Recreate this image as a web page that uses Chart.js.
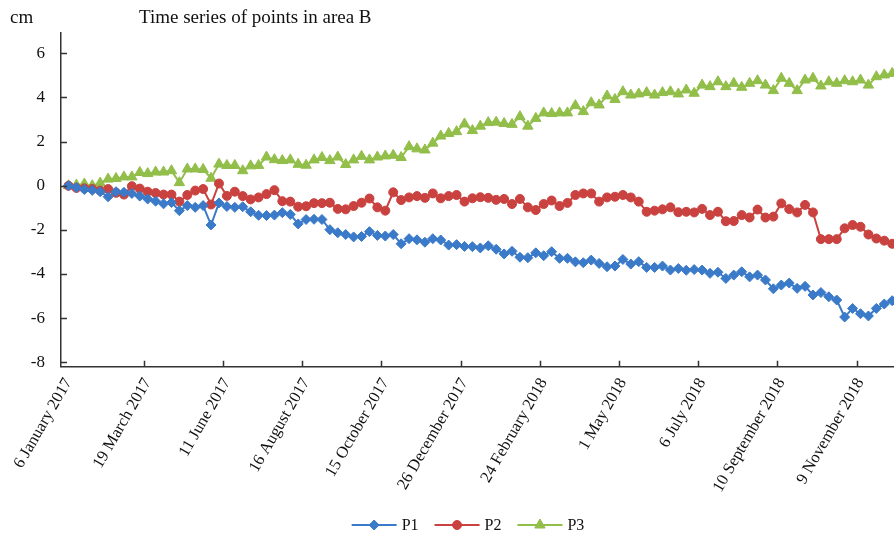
<!DOCTYPE html>
<html>
<head>
<meta charset="utf-8">
<title>Time series of points in area B</title>
<script src="https://cdn.jsdelivr.net/npm/chart.js@4.4.1/dist/chart.umd.min.js"></script>
<style>
  html, body { margin: 0; padding: 0; background: #fff; overflow: hidden; }
  canvas { display: block; }
</style>
</head>
<body>
<canvas id="chart" width="894" height="537"></canvas>
<script>
// Acquisition dates (one per measurement)
const dates = [
  '2017-01-06','2017-01-18','2017-01-30','2017-02-05','2017-02-11','2017-02-17','2017-02-23','2017-03-01','2017-03-07','2017-03-13',
  '2017-03-19','2017-03-25','2017-03-31','2017-04-06','2017-04-12','2017-04-24','2017-05-06','2017-05-18','2017-05-30','2017-06-05',
  '2017-06-11','2017-06-17','2017-06-23','2017-06-29','2017-07-05','2017-07-11','2017-07-17','2017-07-23','2017-07-29','2017-08-04',
  '2017-08-16','2017-08-22','2017-08-28','2017-09-03','2017-09-09','2017-09-15','2017-09-21','2017-09-27','2017-10-03','2017-10-09',
  '2017-10-15','2017-10-21','2017-10-27','2017-11-02','2017-11-08','2017-11-14','2017-11-20','2017-12-02','2017-12-08','2017-12-14',
  '2017-12-26','2018-01-01','2018-01-07','2018-01-13','2018-01-19','2018-01-25','2018-01-31','2018-02-06','2018-02-12','2018-02-18',
  '2018-02-24','2018-03-02','2018-03-08','2018-03-14','2018-03-20','2018-03-26','2018-04-01','2018-04-07','2018-04-13','2018-04-19',
  '2018-05-01','2018-05-07','2018-05-13','2018-05-19','2018-05-25','2018-05-31','2018-06-06','2018-06-12','2018-06-18','2018-06-24',
  '2018-07-06','2018-07-12','2018-07-18','2018-07-24','2018-07-30','2018-08-05','2018-08-11','2018-08-17','2018-08-23','2018-08-29',
  '2018-09-10','2018-09-16','2018-09-22','2018-09-28','2018-10-04','2018-10-10','2018-10-16','2018-10-22','2018-10-28','2018-11-03',
  '2018-11-09','2018-11-15','2018-11-21','2018-11-27','2018-12-03'
];

// Dates that get a label on the time axis
const tickIndex = [0, 10, 20, 30, 40, 50, 60, 70, 80, 90, 100];

// Displacement axis ticks (cm)
const yTicks = [-8, -6, -4, -2, 0, 2, 4, 6];

const seriesNames = ['P1', 'P2', 'P3'];

// Cumulative displacement, cm
const p1 = [
  0, -0.08, -0.17, -0.21, -0.27, -0.5, -0.27, -0.3, -0.35, -0.47,
  -0.6, -0.7, -0.82, -0.76, -1.13, -0.9, -0.98, -0.9, -1.78, -0.78,
  -0.94, -0.98, -0.95, -1.18, -1.34,
  -1.35, -1.33, -1.22, -1.3, -1.73, -1.53, -1.52, -1.53, -1.99, -2.13,
  -2.21, -2.32, -2.3, -2.08, -2.25, -2.28, -2.21, -2.63, -2.4, -2.45,
  -2.56, -2.4, -2.46, -2.69, -2.67, -2.75, -2.76, -2.82,
  -2.72, -2.88, -3.09, -2.97, -3.24, -3.26, -3.04, -3.17, -2.99, -3.29,
  -3.29, -3.45, -3.49, -3.37, -3.52, -3.67, -3.64, -3.34, -3.55, -3.44,
  -3.7, -3.7, -3.64, -3.82, -3.75, -3.83,
  -3.8, -3.82, -3.97, -3.92, -4.2, -4.05, -3.9, -4.13, -4.05, -4.27,
  -4.67, -4.5, -4.41, -4.65, -4.56, -4.95, -4.84, -5.03, -5.18, -5.95,
  -5.56, -5.8, -5.9, -5.56, -5.36, -5.21
];

const p2 = [
  0, -0.1, -0.12, -0.15, -0.22, -0.15, -0.32, -0.4, -0.02, -0.13,
  -0.27, -0.33, -0.4, -0.4, -0.72, -0.42, -0.22, -0.15, -0.85, 0.1,
  -0.46, -0.27, -0.47, -0.62, -0.53,
  -0.38, -0.2, -0.7, -0.72, -0.95, -0.93, -0.79, -0.79, -0.77, -1.05,
  -1.07, -0.92, -0.77, -0.58, -0.98, -1.13, -0.3, -0.65, -0.53, -0.47,
  -0.55, -0.35, -0.57, -0.47, -0.42, -0.72, -0.57, -0.52,
  -0.55, -0.64, -0.6, -0.83, -0.6, -0.98, -1.1, -0.83, -0.67, -0.92,
  -0.78, -0.42, -0.35, -0.35, -0.72, -0.53, -0.5, -0.42, -0.53, -0.72,
  -1.18, -1.13, -1.07, -0.98, -1.2, -1.18,
  -1.21, -1.05, -1.33, -1.18, -1.61, -1.6, -1.33, -1.44, -1.08, -1.44,
  -1.4, -0.8, -1.06, -1.21, -0.87, -1.21, -2.42, -2.42, -2.42, -1.93,
  -1.78, -1.86, -2.21, -2.39, -2.49, -2.63
];

const p3 = [
  0, 0.03, 0.08, 0, 0.12, 0.3, 0.33, 0.4, 0.4, 0.6,
  0.55, 0.62, 0.62, 0.68, 0.14, 0.76, 0.76, 0.74, 0.34, 0.98,
  0.92, 0.92, 0.68, 0.9, 0.92,
  1.3, 1.18, 1.14, 1.17, 0.97, 0.93, 1.17, 1.28, 1.14, 1.3,
  0.96, 1.17, 1.33, 1.17, 1.3, 1.35, 1.38, 1.28, 1.77, 1.67,
  1.62, 1.93, 2.25, 2.37, 2.45,
  2.8, 2.5, 2.7, 2.86, 2.88, 2.82, 2.78, 3.13, 2.7, 3.05,
  3.3, 3.27, 3.3, 3.3, 3.63, 3.36, 3.76, 3.66, 4.07, 3.91,
  4.26, 4.11, 4.16, 4.22, 4.11, 4.22, 4.26, 4.16, 4.34,
  4.19, 4.56, 4.49, 4.71, 4.49, 4.64, 4.46, 4.64, 4.76, 4.56,
  4.31, 4.87, 4.64, 4.31, 4.79, 4.87, 4.52, 4.71, 4.64, 4.76,
  4.71, 4.79, 4.56, 4.94, 5.02, 5.09
];

const MONTHS = ['January','February','March','April','May','June','July',
                'August','September','October','November','December'];
function formatDate(iso) {
  const [y, m, d] = iso.split('-').map(Number);
  return d + ' ' + MONTHS[m - 1] + ' ' + y;
}

const SERIF = "'Liberation Serif', 'Times New Roman', Times, serif";
const AXIS_COLOR = '#333333';
const TEXT_COLOR = '#111111';

const styles = [
  { color: '#3A7AC8', pointStyle: 'rectRot', radius: 5 },
  { color: '#C9423F', pointStyle: 'circle', radius: 4.5 },
  { color: '#92BE4A', pointStyle: 'triangle', radius: 6 }
];

function makeDataset(name, values, st) {
  return {
    label: name,
    data: values.map((v, i) => ({ x: i, y: v })),
    borderColor: st.color,
    backgroundColor: st.color,
    borderWidth: 2,
    pointStyle: st.pointStyle,
    pointRadius: st.radius,
    pointBackgroundColor: st.color,
    pointBorderColor: st.color,
    pointBorderWidth: 1,
    tension: 0,
    fill: false
  };
}

// Inward tick marks, headings and a line-plus-marker legend
const decorations = {
  id: 'decorations',
  afterDraw(chart) {
    const { ctx, chartArea, scales } = chart;
    const xs = scales.x, ys = scales.y;
    ctx.save();
    ctx.strokeStyle = AXIS_COLOR;
    ctx.lineWidth = 1.5;
    ctx.beginPath();
    tickIndex.slice(1).forEach(i => {
      const px = Math.round(xs.getPixelForValue(i - 0.5)) + 0.5;
      ctx.moveTo(px, chartArea.bottom);
      ctx.lineTo(px, chartArea.bottom - 6);
    });
    yTicks.forEach(v => {
      const py = Math.round(ys.getPixelForValue(v)) + 0.5;
      ctx.moveTo(chartArea.left, py);
      ctx.lineTo(chartArea.left + 6, py);
    });
    ctx.stroke();

    ctx.fillStyle = TEXT_COLOR;
    ctx.textBaseline = 'alphabetic';
    ctx.textAlign = 'left';
    ctx.font = '19px ' + SERIF;
    ctx.fillText('cm', 10, 23);
    ctx.fillText('Time series of points in area B', 139, 23);

    // legend
    ctx.font = '16px ' + SERIF;
    const lineLen = 45, gapText = 5, gapItem = 16;
    const widths = seriesNames.map(n => lineLen + gapText + ctx.measureText(n).width);
    const total = widths.reduce((a, b) => a + b, 0) + gapItem * (widths.length - 1);
    let x = 468 - total / 2;
    const y = 525;
    chart.data.datasets.forEach((ds, k) => {
      ctx.strokeStyle = ds.borderColor;
      ctx.lineWidth = 2;
      ctx.beginPath();
      ctx.moveTo(x, y);
      ctx.lineTo(x + lineLen, y);
      ctx.stroke();
      ctx.fillStyle = ds.pointBackgroundColor;
      ctx.strokeStyle = ds.pointBorderColor;
      ctx.lineWidth = 1;
      Chart.helpers.drawPoint(ctx, {
        pointStyle: ds.pointStyle, radius: ds.pointRadius, rotation: 0, borderWidth: 1
      }, x + lineLen / 2, y);
      ctx.fillStyle = TEXT_COLOR;
      ctx.textBaseline = 'middle';
      ctx.fillText(ds.label, x + lineLen + gapText, y + 1);
      x += widths[k] + gapItem;
    });
    ctx.restore();
  }
};

new Chart(document.getElementById('chart'), {
  type: 'line',
  data: {
    datasets: [
      makeDataset(seriesNames[0], p1, styles[0]),
      makeDataset(seriesNames[1], p2, styles[1]),
      makeDataset(seriesNames[2], p3, styles[2])
    ]
  },
  options: {
    responsive: false,
    animation: false,
    devicePixelRatio: 1,
    layout: { autoPadding: false, padding: { top: 33, right: 0, bottom: 0, left: 0 } },
    plugins: {
      legend: { display: false },
      title: { display: false },
      tooltip: { enabled: false }
    },
    scales: {
      x: {
        type: 'linear',
        min: -0.947,
        max: 104.23,
        grid: { display: false },
        border: { display: true, color: AXIS_COLOR, width: 1.5 },
        afterBuildTicks: s => { s.ticks = tickIndex.map(v => ({ value: v })); },
        afterFit: s => { s.height = 537 - 366.7; },
        ticks: {
          autoSkip: false,
          minRotation: 60,
          maxRotation: 60,
          padding: 0,
          color: TEXT_COLOR,
          font: { family: SERIF, size: 16.5 },
          callback: v => (dates[v] !== undefined ? formatDate(dates[v]) : '')
        }
      },
      y: {
        type: 'linear',
        min: -8.2,
        max: 6.92,
        grid: { display: false },
        border: { display: true, color: AXIS_COLOR, width: 1.5 },
        afterBuildTicks: s => { s.ticks = yTicks.map(v => ({ value: v })); },
        afterFit: s => { s.width = 61; },
        ticks: {
          padding: 8,
          color: TEXT_COLOR,
          font: { family: SERIF, size: 17 }
        }
      }
    }
  },
  plugins: [decorations]
});
</script>
</body>
</html>
